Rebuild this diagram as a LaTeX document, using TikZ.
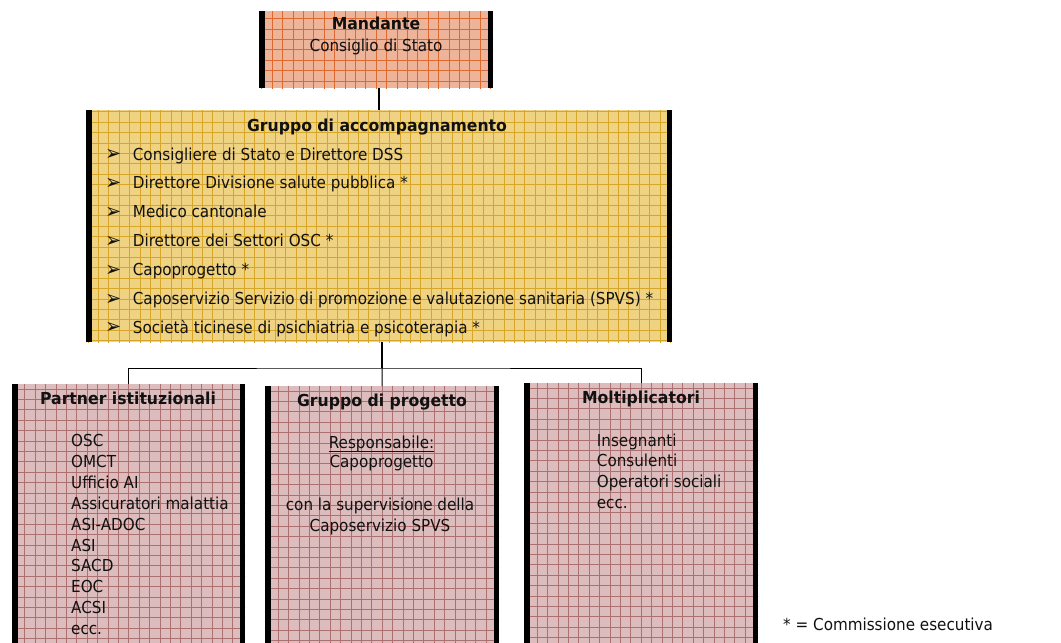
\documentclass[tikz,border=0pt]{standalone}
\usepackage{fontspec}
\setmainfont{DejaVu Sans}[FakeStretch=0.92,BoldFeatures={FakeStretch=0.95}]
\definecolor{mandbg}{HTML}{EEB49A}
\definecolor{mandln}{HTML}{DC6A30}
\definecolor{yelbg}{HTML}{EFD282}
\definecolor{yelln}{HTML}{D6A628}
\definecolor{pinkbg}{HTML}{DCBCBC}
\definecolor{pinkln}{HTML}{AC7070}
\definecolor{txtc}{HTML}{111111}
\tikzset{
  gridfill/.style 2 args={fill=#1, path picture={\draw[draw=#2, line width=0.7pt] ([shift={(-30,30)}]path picture bounding box.south west) grid[step=10.4pt] ([shift={(30,-30)}]path picture bounding box.north east);}},
  boxbase/.style={rectangle, inner sep=0pt, anchor=north west},
  txt/.style={inner sep=0pt, text=txtc, font=\fontsize{16.5}{21}\selectfont},
  ttl/.style={txt, font=\fontsize{16.5}{21}\selectfont\bfseries, anchor=base},
  item/.style={txt, anchor=base west},
  bul/.style={txt, anchor=base west, font=\fontsize{21}{21}\selectfont},
  conn/.style={line width=1pt, draw=black},
  stem/.style={line width=1.8pt, draw=black},
  uline/.style={line width=1.1pt, draw=txtc}
}
\begin{document}
\begin{tikzpicture}[x=1pt,y=-1pt]
\useasboundingbox (0,0) rectangle (1061,643);
\clip (0,0) rectangle (1061,643);
% boxes
\node[boxbase, gridfill={mandbg}{mandln}, minimum width=234pt, minimum height=77pt] (m) at (259,11) {};
\node[boxbase, gridfill={yelbg}{yelln}, minimum width=586pt, minimum height=232pt] (g) at (86,110) {};
\node[boxbase, gridfill={pinkbg}{pinkln}, minimum width=233pt, minimum height=280pt] (p1) at (12,384) {};
\node[boxbase, gridfill={pinkbg}{pinkln}, minimum width=234pt, minimum height=280pt] (p2) at (265,386) {};
\node[boxbase, gridfill={pinkbg}{pinkln}, minimum width=234pt, minimum height=280pt] (p3) at (524,383) {};
\foreach \n in {m,g,p1,p2,p3}{
  \fill[black] (\n.north west) rectangle ([xshift=5.5pt]\n.south west);
  \fill[black] ([xshift=-5.5pt]\n.north east) rectangle (\n.south east);
}
% connectors
\coordinate (j) at (382,368);
\draw[stem] ([xshift=3pt]m.south) -- ([xshift=3pt]m.south |- g.north);
\draw[stem] (g.south -| j) -- (j);
\draw[conn] (p1.north) |- (j) -| (p3.north);
\draw[conn] (j) -- (p2.north);
% Mandante
\node[ttl] (mt1) at (376,29.3) {Mandante};
\node[txt, anchor=base] (mt2) at (376,51.7) {Consiglio di Stato};
% Gruppo di accompagnamento
\node[ttl] (gt) at (377,131) {Gruppo di accompagnamento};
\foreach \t [count=\i from 0] in {
  {Consigliere di Stato e Direttore DSS},
  {Direttore Divisione salute pubblica *},
  {Medico cantonale},
  {Direttore dei Settori OSC *},
  {Capoprogetto *},
  {Caposervizio Servizio di promozione e valutazione sanitaria (SPVS) *},
  {Società ticinese di psichiatria e psicoterapia *}}{
  \node[bul] (gb\i) at (105,160.5+28.9*\i) {➢};
  \node[item] (gi\i) at (132.7,160+28.9*\i) {\t};
}
% Partner istituzionali
\node[ttl] (p1t) at (128,404) {Partner istituzionali};
\foreach \t [count=\i from 0] in {OSC,OMCT,Ufficio AI,Assicuratori malattia,ASI-ADOC,ASI,SACD,EOC,ACSI,ecc.}{
  \node[item] (pi\i) at (71,446.5+20.9*\i) {\t};
}
% Gruppo di progetto
\node[ttl] (p2t) at (382,406) {Gruppo di progetto};
\node[txt, anchor=base] (p2a) at (381.5,448.3) {Responsabile:};
\draw[uline] ([yshift=-2.8pt]p2a.base west) -- ([yshift=-2.8pt]p2a.base east);
\node[txt, anchor=base] (p2b) at (381.5,467.5) {Capoprogetto};
\node[txt, anchor=base] (p2c) at (380,510) {con la supervisione della};
\node[txt, anchor=base] (p2d) at (380,531) {Caposervizio SPVS};
% Moltiplicatori
\node[ttl] (p3t) at (641,403.3) {Moltiplicatori};
\foreach \t [count=\i from 0] in {Insegnanti,Consulenti,Operatori sociali,ecc.}{
  \node[item] (mi\i) at (596.7,446+20.9*\i) {\t};
}
% footnote
\node[item] (fn) at (783,630) {* = Commissione esecutiva};
\end{tikzpicture}
\end{document}
